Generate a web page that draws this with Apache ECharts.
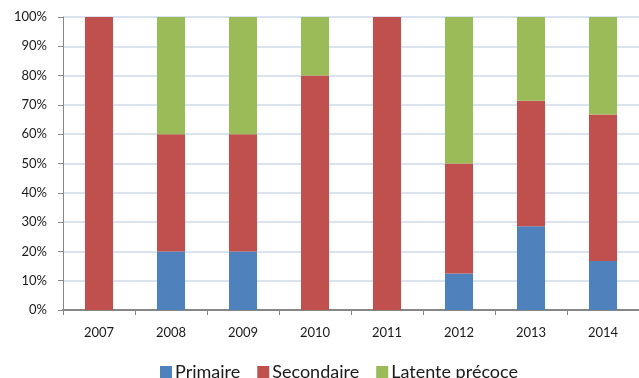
<!DOCTYPE html>
<html>
<head>
<meta charset="utf-8">
<script src="https://cdn.jsdelivr.net/npm/echarts@6/dist/echarts.min.js"></script>
<style>
  html, body { margin: 0; padding: 0; background: #fff; }
  #chart { width: 639px; height: 378px; }
</style>
</head>
<body>
<div id="chart"></div>
<script>
// Share of cases by stage, per year (percent of the yearly total)
const years = ['2007', '2008', '2009', '2010', '2011', '2012', '2013', '2014'];
const primaire = [0, 20, 20, 0, 0, 12.5, 28.6, 16.7];
const secondaire = [100, 40, 40, 80, 100, 37.5, 42.8, 50];
const latente = [0, 40, 40, 20, 0, 50, 28.6, 33.3];
const yTicks = [0, 10, 20, 30, 40, 50, 60, 70, 80, 90, 100];

const font = 'Lato, "Open Sans", sans-serif';
const chart = echarts.init(document.getElementById('chart'), null, { renderer: 'canvas' });

function bar(name, data, color) {
  return {
    name: name,
    type: 'bar',
    stack: 'total',
    data: data,
    barWidth: '39%',
    itemStyle: { color: color },
    emphasis: { disabled: true }
  };
}

chart.setOption({
  animation: false,
  backgroundColor: '#ffffff',
  grid: { left: 63, right: -8, top: 17, bottom: 68, containLabel: false },
  legend: {
    left: 155,
    top: 358,
    itemWidth: 12,
    itemHeight: 12,
    itemGap: 17,
    icon: 'rect',
    textStyle: { fontFamily: font, fontSize: 18, color: '#1a1a1a', padding: [0, 0, 0, -2] },
    data: ['Primaire', 'Secondaire', 'Latente précoce']
  },
  xAxis: {
    type: 'category',
    data: years,
    axisLine: { lineStyle: { color: '#868686', width: 2 } },
    axisTick: { show: true, alignWithLabel: false, length: 5, lineStyle: { color: '#868686' } },
    axisLabel: { fontFamily: font, fontSize: 13, color: '#1a1a1a', margin: 16 }
  },
  yAxis: {
    type: 'value',
    min: yTicks[0],
    max: yTicks[yTicks.length - 1],
    interval: 10,
    axisLine: { show: true, lineStyle: { color: '#868686', width: 1 } },
    axisTick: { show: true, length: 5, lineStyle: { color: '#868686' } },
    axisLabel: { fontFamily: font, fontSize: 13, color: '#1a1a1a', margin: 16, formatter: '{value}%' },
    splitLine: { show: true, lineStyle: { color: '#dae3f0', width: 2 } }
  },
  series: [
    bar('Primaire', primaire, '#4f81bd'),
    bar('Secondaire', secondaire, '#c0504d'),
    bar('Latente précoce', latente, '#9bbb59')
  ]
});
</script>
</body>
</html>
